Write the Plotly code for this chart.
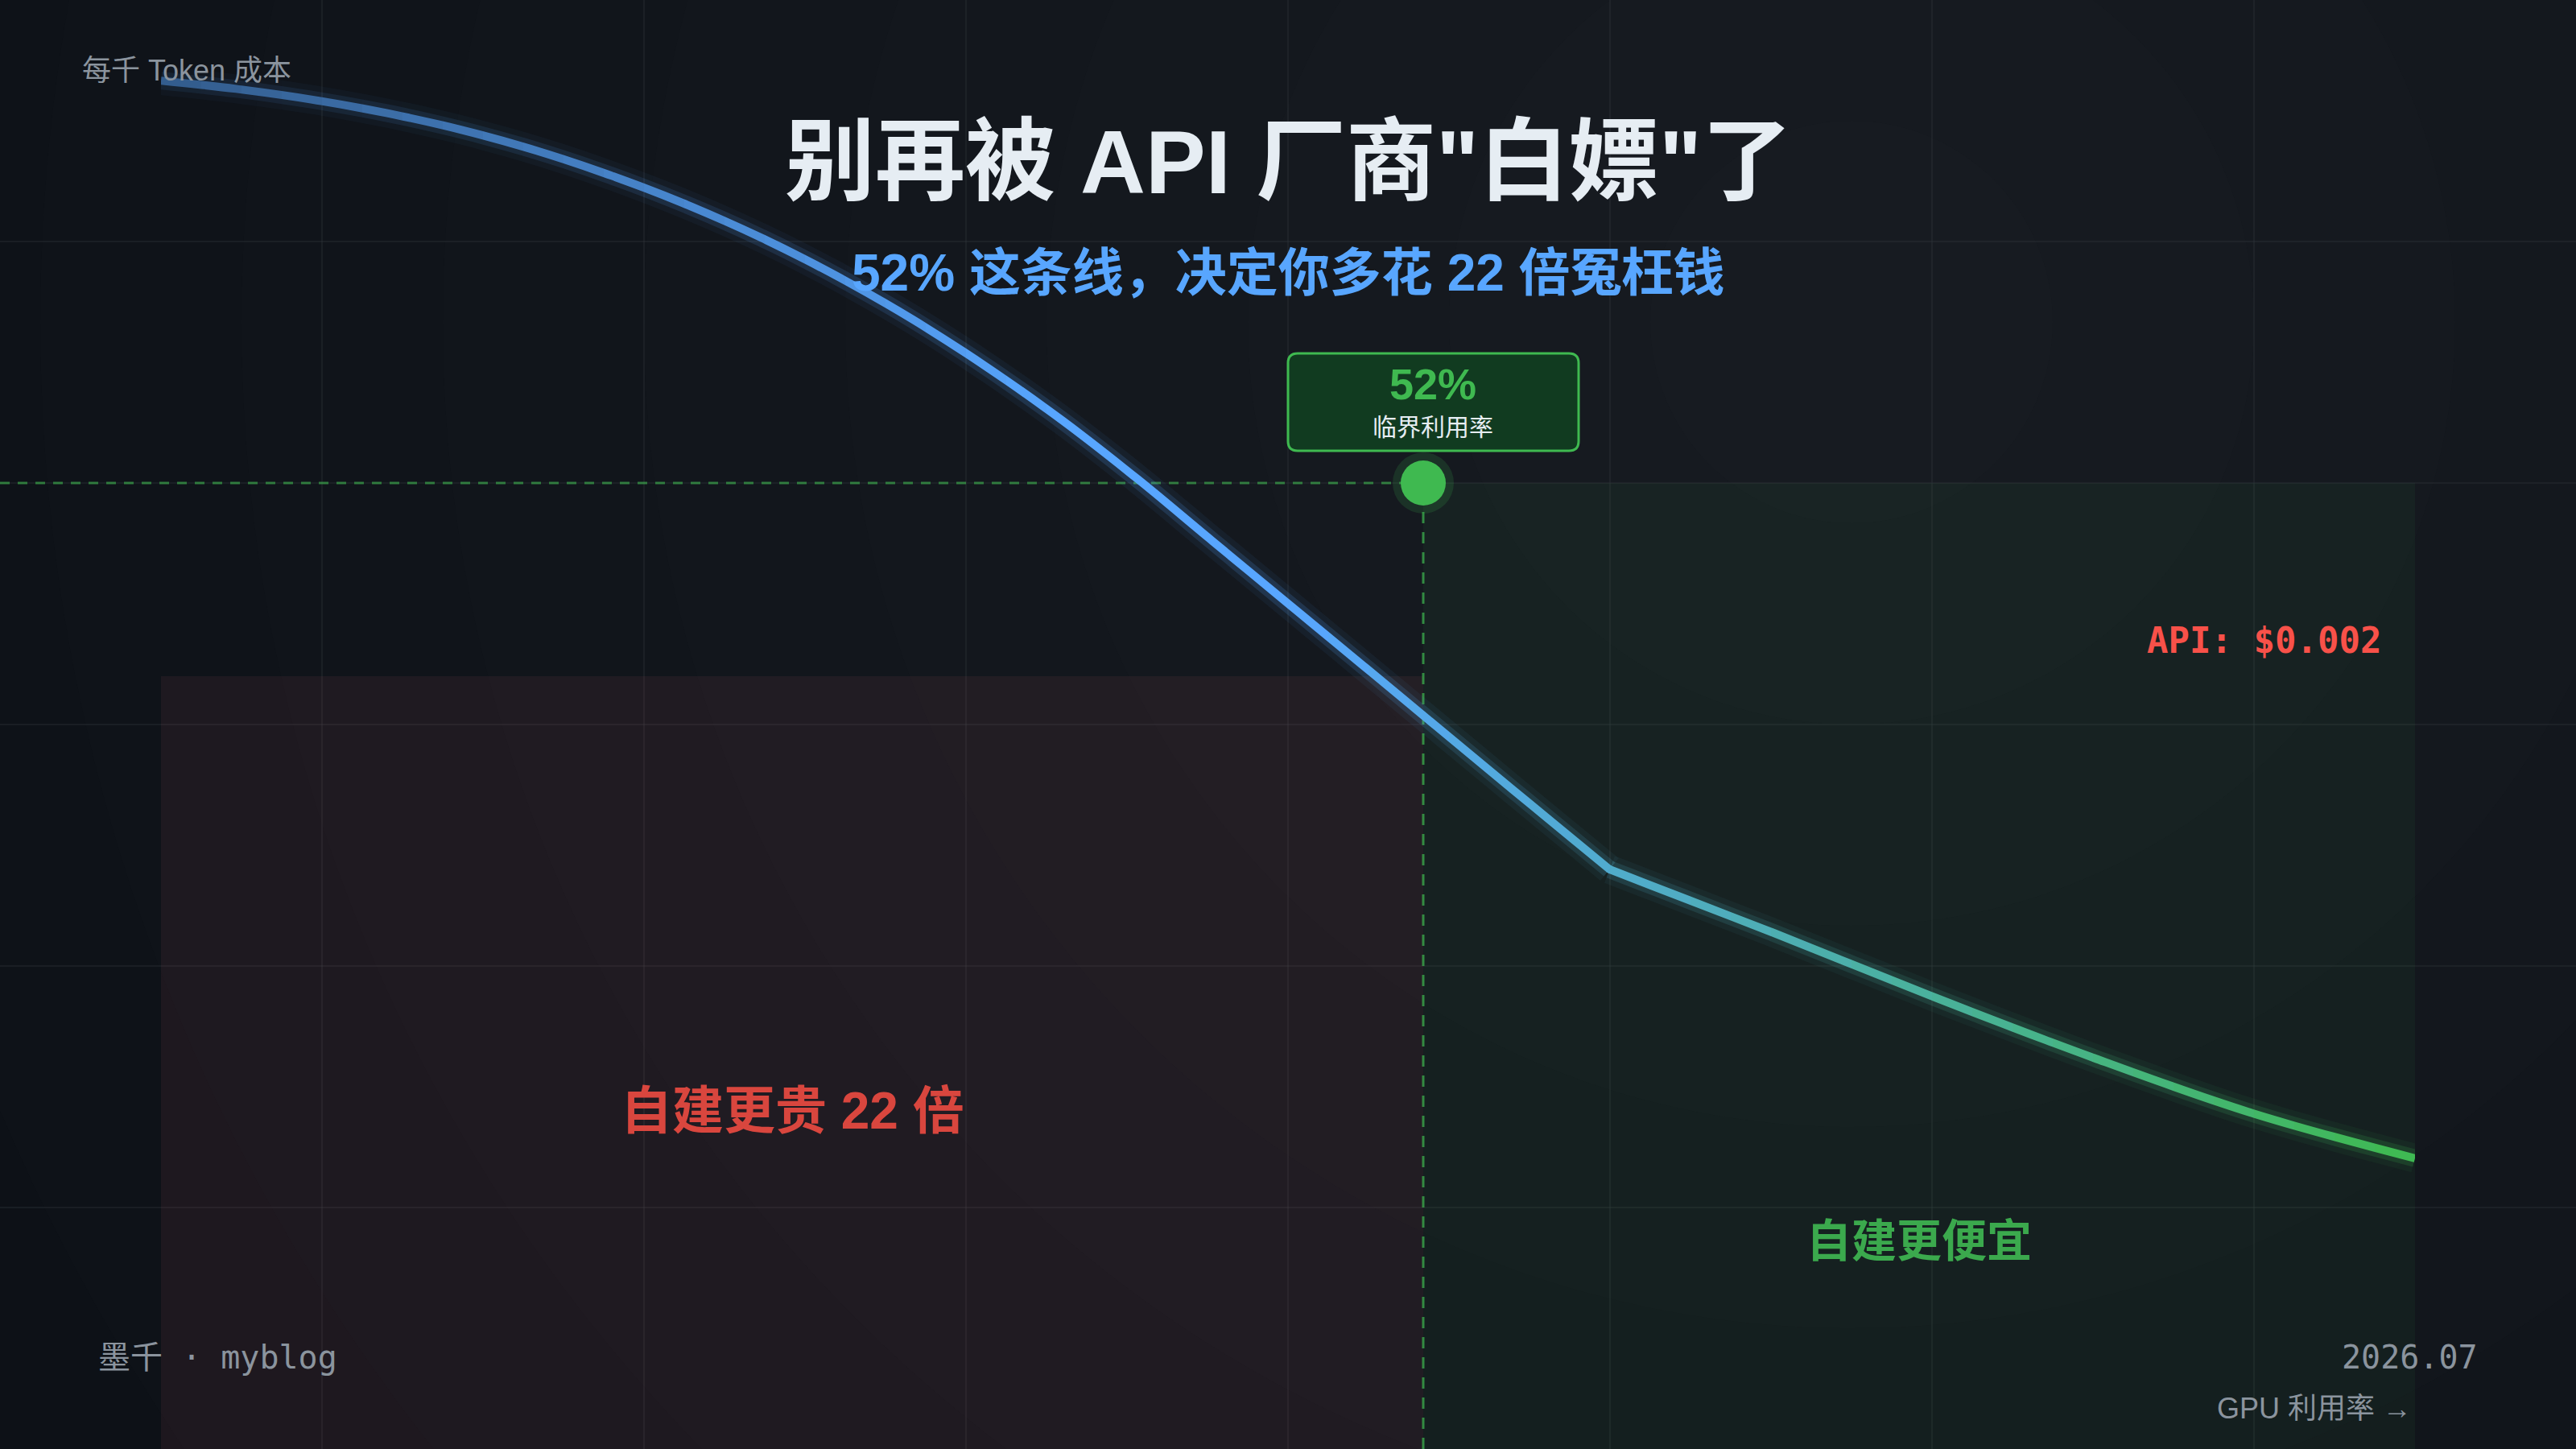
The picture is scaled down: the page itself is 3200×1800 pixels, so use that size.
import plotly.graph_objects as go

# ---------------- data ----------------
gpu_util_pct = [10.0, 12.5, 15.0, 17.5, 20.0, 22.5, 25.0, 27.5, 30.0, 32.5, 35.0, 37.5,
                40.0, 42.5, 45.0, 50.0, 55.0, 58.2, 63.6, 68.9, 74.3, 79.6, 85.0]
cost_per_1k = [0.002833, 0.002816, 0.002794, 0.002766, 0.002731, 0.002688, 0.002636, 0.002576,
               0.002507, 0.002428, 0.002339, 0.002239, 0.002129, 0.002008, 0.001879, 0.001622,
               0.001364, 0.001200, 0.001070, 0.000938, 0.000810, 0.000695, 0.000602]
kink_index = 17            # point where the cost curve bends (58.2 %)
breakeven_util = 52
api_price = 0.002
expensive_zone_top = 0.0016

title_text = '别再被 API 厂商"白嫖"了'
subtitle_text = "52% 这条线，决定你多花 22 倍冤枉钱"
y_label = "每千 Token 成本"
x_label = "GPU 利用率 →"
badge_value = "52%"
badge_label = "临界利用率"
api_label = "API: $0.002"
red_zone_label = "自建更贵 22 倍"
green_zone_label = "自建更便宜"
author_label = "墨千 · myblog"
date_label = "2026.07"

# ---------------- layout constants ----------------
W, H = 3200, 1800
SANS = "Liberation Sans, Noto Sans CJK SC, sans-serif"
MONO = "DejaVu Sans Mono, Noto Sans CJK SC, monospace"
BG = (13, 17, 23)
BLUE = (88, 166, 255)
GREEN = (63, 185, 80)

x_lo_data, x_hi_data = min(gpu_util_pct), max(gpu_util_pct)
unit_px = 2800 / (x_hi_data - x_lo_data)          # curve spans 2800 px of the 3200 px canvas
X_RANGE = [x_lo_data - 200 / unit_px, x_hi_data + 200 / unit_px]
Y_RANGE = [0, 0.003]


def px(x):
    return x / W


def py(y):
    return 1 - y / H


def rgb(c):
    return "rgb(%d,%d,%d)" % tuple(int(round(v)) for v in c)


def rgba(c, a):
    return "rgba(%d,%d,%d,%.3f)" % (int(round(c[0])), int(round(c[1])), int(round(c[2])), a)


def curve_color(x):
    t = (x - x_lo_data) / (x_hi_data - x_lo_data)
    alpha = 0.5 + 0.5 * min(1.0, t / 0.4)
    m = min(1.0, max(0.0, (t - 0.5) / 0.5))
    col = [BLUE[i] * (1 - m) + GREEN[i] * m for i in range(3)]
    vis = [BG[i] * (1 - alpha) + col[i] * alpha for i in range(3)]
    return col, vis, alpha


fig = go.Figure()
shapes = []

# soft radial background light
cx, cy = 2300, 400
for k in range(10):
    r = 2500 - 250 * k
    shapes.append(dict(type="circle", xref="paper", yref="paper", layer="below",
                       x0=px(cx - r), x1=px(cx + r), y0=py(cy + r), y1=py(cy - r),
                       fillcolor="rgba(50,58,68,0.03)", line=dict(width=0)))

# decorative background grid
for gx in range(400, W, 400):
    shapes.append(dict(type="line", xref="paper", yref="paper", layer="below",
                       x0=px(gx), x1=px(gx), y0=0, y1=1,
                       line=dict(color="rgba(48,54,61,0.35)", width=2)))
for gy in range(300, H, 300):
    shapes.append(dict(type="line", xref="paper", yref="paper", layer="below",
                       x0=0, x1=1, y0=py(gy), y1=py(gy),
                       line=dict(color="rgba(48,54,61,0.35)", width=2)))

# zones
shapes.append(dict(type="rect", xref="x", yref="y", layer="below",
                   x0=x_lo_data, x1=breakeven_util, y0=0, y1=expensive_zone_top,
                   fillcolor="rgba(240,110,130,0.07)", line=dict(width=0)))
shapes.append(dict(type="rect", xref="x", yref="y", layer="below",
                   x0=breakeven_util, x1=x_hi_data, y0=0, y1=api_price,
                   fillcolor="rgba(63,185,80,0.06)", line=dict(width=0)))

# dashed guide lines
shapes.append(dict(type="line", xref="x", yref="y", layer="below",
                   x0=X_RANGE[0], x1=breakeven_util, y0=api_price, y1=api_price,
                   line=dict(color="rgba(63,185,80,0.6)", width=3, dash="12px,10px")))
shapes.append(dict(type="line", xref="x", yref="y", layer="below",
                   x0=breakeven_util, x1=breakeven_util, y0=0, y1=api_price,
                   line=dict(color="rgba(63,185,80,0.7)", width=3, dash="14px,11px")))

# badge box (rounded)
bx0, by0, bx1, by1, rr = 1600, 439, 1961, 560, 12
pts = [
    ("M", (bx0 + rr, by0)), ("L", (bx1 - rr, by0)), ("Q", (bx1, by0), (bx1, by0 + rr)),
    ("L", (bx1, by1 - rr)), ("Q", (bx1, by1), (bx1 - rr, by1)),
    ("L", (bx0 + rr, by1)), ("Q", (bx0, by1), (bx0, by1 - rr)),
    ("L", (bx0, by0 + rr)), ("Q", (bx0, by0), (bx0 + rr, by0)),
]
path = ""
for seg in pts:
    path += seg[0] + " " + " ".join("%.6f,%.6f" % (px(p[0]), py(p[1])) for p in seg[1:]) + " "
path += "Z"
shapes.append(dict(type="path", xref="paper", yref="paper", layer="above", path=path,
                   fillcolor="#113b20", line=dict(color="#3fb950", width=3)))

# ---------------- curve: smooth spline, gradient via thin clipped x-slices ----------------
pieces = [
    (gpu_util_pct[:kink_index + 1], cost_per_1k[:kink_index + 1]),
    (gpu_util_pct[kink_index:], cost_per_1k[kink_index:]),
]

# fill the joint at the bend (drawn on the main subplot, beneath the slices)
_, kv, _ = curve_color(gpu_util_pct[kink_index])
fig.add_trace(go.Scatter(x=[gpu_util_pct[kink_index]], y=[cost_per_1k[kink_index]], mode="markers",
                         marker=dict(size=10, color=rgb(kv), line=dict(width=0)),
                         hoverinfo="skip", showlegend=False))

# breakeven marker
fig.add_trace(go.Scatter(x=[breakeven_util], y=[api_price], mode="markers",
                         marker=dict(size=76, color="rgba(63,185,80,0.16)", line=dict(width=0)),
                         hoverinfo="skip", showlegend=False))
fig.add_trace(go.Scatter(x=[breakeven_util], y=[api_price], mode="markers",
                         marker=dict(size=56, color="#3fb950", line=dict(width=0)),
                         hoverinfo="skip", showlegend=False))

K = 56
slice_axes = {}
for k in range(K):
    a = x_lo_data + (x_hi_data - x_lo_data) * k / K
    b = x_lo_data + (x_hi_data - x_lo_data) * (k + 1) / K
    d0 = (200 + (a - x_lo_data) * unit_px) / W
    d1 = (200 + (b - x_lo_data) * unit_px) / W
    ax_id = k + 2
    slice_axes["xaxis%d" % ax_id] = dict(domain=[d0, d1], range=[a, b], visible=False,
                                         fixedrange=True, anchor="y")
    col, vis, alpha = curve_color((a + b) / 2)
    for xs, ys in pieces:
        if xs[-1] < a - 1.5 or xs[0] > b + 1.5:
            continue
        for width, op in ((36, 0.06), (22, 0.16)):
            fig.add_trace(go.Scatter(x=xs, y=ys, mode="lines", xaxis="x%d" % ax_id, yaxis="y",
                                     line=dict(color=rgba(col, op * alpha), width=width,
                                               shape="spline", smoothing=1.0),
                                     hoverinfo="skip", showlegend=False))
        fig.add_trace(go.Scatter(x=xs, y=ys, mode="lines", xaxis="x%d" % ax_id, yaxis="y",
                                 line=dict(color=rgb(vis), width=10, shape="spline", smoothing=1.0),
                                 hoverinfo="skip", showlegend=False))

# ---------------- texts ----------------
ann = []


def text(t, x, y, size, color, family=SANS, xanchor="center", bold=False):
    ann.append(dict(text=("<b>%s</b>" % t) if bold else t, x=px(x), y=py(y),
                    xref="paper", yref="paper", showarrow=False,
                    xanchor=xanchor, yanchor="middle",
                    font=dict(size=size, color=color, family=family)))


text(y_label, 100, 88, 36, "#8b949e", xanchor="left")
text(title_text, 1600, 201, 112, "#e6edf3", bold=True)
text(subtitle_text, 1600, 339, 64, "#58a6ff", bold=True)
text(badge_value, 1780, 477, 54, "#3fb950", bold=True)
text(badge_label, 1780, 530, 30, "#e6edf3")
text(api_label, 2960, 795, 44, "#f85149", family=MONO, xanchor="right", bold=True)
text(red_zone_label, 984, 1380, 64, "#d9463e", bold=True)
text(green_zone_label, 2384, 1541, 56, "#3ba94d", bold=True)
text(author_label, 120, 1686, 40, "#8b949e", family=MONO, xanchor="left")
text(date_label, 3080, 1686, 40, "#8b949e", family=MONO, xanchor="right")
text(x_label, 2998, 1749, 36, "#8b949e", xanchor="right")

fig.update_layout(
    width=W, height=H,
    margin=dict(l=0, r=0, t=0, b=0),
    paper_bgcolor=rgb(BG), plot_bgcolor="rgba(0,0,0,0)",
    xaxis=dict(range=X_RANGE, visible=False, fixedrange=True),
    yaxis=dict(range=Y_RANGE, visible=False, fixedrange=True),
    shapes=shapes, annotations=ann, showlegend=False,
    **slice_axes,
)

fig.write_html("out.html", config={"displayModeBar": False, "staticPlot": True},
               post_script="document.body.style.margin='0px';document.body.style.background='%s';" % rgb(BG))
